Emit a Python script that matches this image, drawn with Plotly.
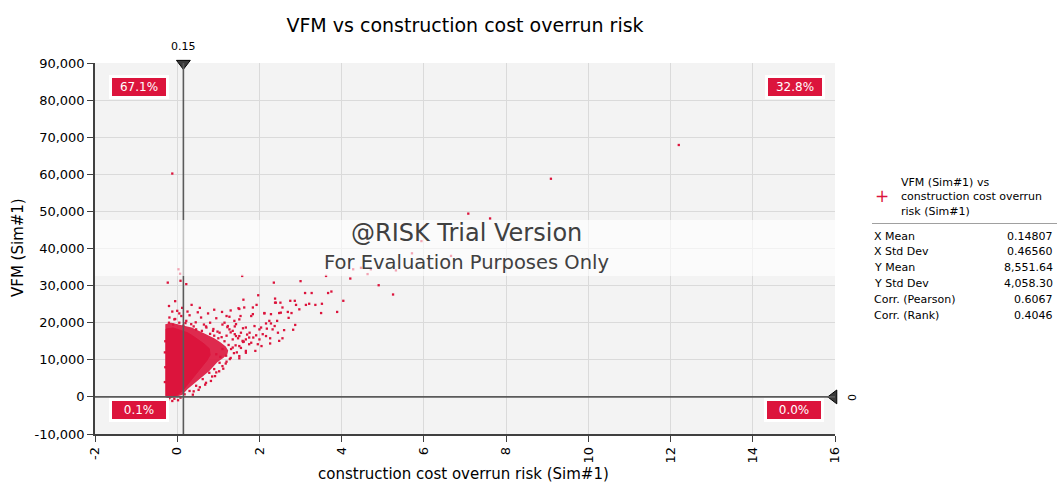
import plotly.graph_objects as go

# ---------------- data ----------------
x_tick_vals = [-2, 0, 2, 4, 6, 8, 10, 12, 14, 16]
x_tick_text = ["-2", "0", "2", "4", "6", "8", "10", "12", "14", "16"]
y_tick_vals = [-10000, 0, 10000, 20000, 30000, 40000, 50000, 60000, 70000, 80000, 90000]
y_tick_text = ["-10,000", "0", "10,000", "20,000", "30,000", "40,000", "50,000",
               "60,000", "70,000", "80,000", "90,000"]

# dense core of the simulation cloud (outline of the solid region)
core_x = [-0.27, -0.27, -0.1, 0.1, 0.25, 0.37, 0.5, 0.65, 0.78, 0.8, 0.72, 0.6, 0.45, 0.28, 0.14, 0.0, -0.15, -0.27]
core_y = [300, 18300, 18600, 17800, 17300, 16500, 15500, 14300, 13000, 11300, 9800, 8200, 6000, 3800, 1800, 500, 0, 300]

# speckled (less dense) halo around the core
halo_x = [-0.29, -0.29, -0.15, 0.1, 0.35, 0.6, 0.9, 1.05, 1.18, 1.24, 1.22, 1.12, 0.98, 0.78, 0.5, 0.26, 0.12, -0.2, -0.29]
halo_y = [0, 19600, 20000, 19400, 18700, 17400, 15800, 14700, 13600, 12500, 11500, 10500, 9400, 7000, 4300, 2200, 500, -400, 0]

# scattered iterations around the cloud
fringe_x = [1.58, 2.35, 3.0, 3.62, 4.21, 4.9, 5.25, 4.04, 3.89, 3.75, 3.67, 3.27, 3.11, 3.52, 3.5, 3.36, 3.21, 3.13,
            2.97, 2.89, 2.75, 2.86, 2.78, 2.69, 2.56, 2.51, 2.38, 2.38, 2.48, 2.28, 2.12, 1.97, 1.93, 1.84, 1.61, 1.63,
            1.51, 1.09, 1.54, 1.84, 2.71, 2.87, 2.43, 2.28, 2.16, 2.04, 2.18, 2.32, 2.6, 2.82, 2.56, 2.48, 2.26, 2.26,
            2.05, 2.08, 1.92, 1.76, 1.67, 1.51, 1.9, 1.8, 1.59, 1.51, 1.35, 1.23, 1.43, 1.39, 1.15, 1.27,
            -0.23, 0.03, 0.07, 0.08, 0.22,
            -0.19, -0.07, 0.05, 0.22, 0.34, 0.58, 0.46, 0.71, 0.87, 1.03, 1.27, 1.43, 1.55, 1.67, 1.75, 1.51, 1.31,
            1.10, 1.19, 1.03, 0.90, 0.78, 0.62, 0.46, 0.30, 0.18, 1.88, 1.51,
            -0.19, -0.07, 0.08, -0.22, -0.12, 0.02,
            1.49, 2.12, 2.4, 2.52, 1.8, 2.24, 1.67, 2.0, 2.37, 2.45, 2.16, 1.75, 1.96, 1.67, 1.51,
            -0.2, -0.05, 0.12, 0.25, 0.35, -0.12, 0.05, 0.5, 0.55, 0.75, 0.9, 0.95, 1.2, 1.3, 1.15, 1.25, 1.35, 1.2,
            1.0, 0.9, 0.8, 0.6, 0.65, 0.4, 0.15, -0.1, -0.2, 0.1, 0.0, 0.3, 0.8, 1.1, 1.4, 1.6, 1.7, 1.85, 2.0, 1.6,
            1.45, 1.3, 1.2, 1.1, 0.95, 0.85, 0.7, 0.55, 0.4, 1.35, 0.95, 1.05, -0.29, -0.3, -0.29, -0.3,
            1.42, 1.38, 1.28, 1.18, 1.12, 1.02, 0.92, 0.82, 0.68, 0.52, 0.38, 1.48, 1.55, 1.62, 1.4, 1.3, 1.22,
            0.7, 0.45, 0.2, -0.05, 0.98, 1.08, 0.88]
fringe_y = [32600, 30800, 31200, 32600, 31900, 30100, 27600, 25900, 22900, 28400, 28000, 28000, 28000, 25100, 22600,
            24800, 25100, 24800, 23600, 24800, 25900, 25900, 22600, 22900, 24100, 25400, 26500, 25400, 22600, 22300,
            22600, 27400, 24800, 24100, 26200, 24100, 23700, 22900, 21800, 22300, 21300, 19400, 20500, 19800, 19800,
            18700, 18400, 18200, 18000, 18100, 15800, 15100, 15800, 14400, 13700, 16900, 16600, 17300, 11900, 10400,
            12400, 14600, 15100, 16400, 17800, 19100, 19600, 20500, 20000, 21600,
            30800, 34400, 33200, 31300, 30400,
            21400, 20900, 20000, 20500, 19600, 21400, 18200, 18700, 17800, 17300, 18200, 16400, 17300, 15500, 14200,
            13700, 12900, 12900, 11100, 9200, 7500, 6500, 4800, 3000, 1600, 700, 19100, 20900,
            -300, -500, -200, -700, -1100, -900,
            23900, 22500, 25400, 22700, 21800, 20500, 18700, 18200, 19100, 17300, 16400, 16000, 14200, 12400, 11000,
            24500, 25800, 24000, 23000, 24800, 23000, 22500, 22800, 24000, 22500, 23500, 21200, 21800, 23300, 15000,
            14000, 15500, 16500, 15800, 16500, 17000, 17800, 19500, 19000, 19200, 19500, 20000, 21800, 23200, 22000,
            20000, 19500, 19000, 18500, 16800, 16000, 15500, 14800, 12000, 10500, 9500, 8300, 6600, 5500, 3800, 2600,
            1500, 13300, 11500, 10800, 8000, 12000, 15000, 4000,
            13900, 11800, 10200, 9000, 7600, 6900, 5600, 4300, 3300, 1900, 600, 15800, 13200, 14900, 16900, 17400, 18800,
            19000, 20100, 19900, 21000, 17600, 16100, 18300]

# isolated extreme iterations
outlier_x = [-0.12, 15.7, 12.2, 9.09, 7.08, 7.61, 5.94, 5.71, 6.66, 4.71, 4.47, 4.63, 5.32, 4.28]
outlier_y = [60200, 85000, 67900, 58800, 49400, 48100, 42000, 38700, 38000, 34400, 34800, 33100, 34100, 34400]

# delimiter markers and quadrant percentages
x_marker = 0.15
y_marker = 0
quad_labels = ["67.1%", "32.8%", "0.1%", "0.0%"]

# summary statistics panel
series_name = "VFM (Sim#1) vs<br>construction cost overrun<br>risk (Sim#1)"
stat_names = ["X Mean", "X Std Dev", "Y Mean", "Y Std Dev", "Corr. (Pearson)", "Corr. (Rank)"]
stat_values = ["0.14807", "0.46560", "8,551.64", "4,058.30", "0.6067", "0.4046"]

# ---------------- styling ----------------
RED = "#dc143c"
FONT = "DejaVu Sans"
W, H = 1057, 483
L, R, T, B = 95, 835, 63, 434  # plot-area pixel box


def px_x(px):
    return (px - L) / (R - L)


def px_y(py):
    return (B - py) / (B - T)


fig = go.Figure()

fig.add_trace(go.Scatter(x=halo_x, y=halo_y, mode="lines", fill="toself",
                         fillcolor="rgba(220,20,60,0.9)", line=dict(width=0, color=RED),
                         hoverinfo="skip", showlegend=False))
fig.add_trace(go.Scatter(x=core_x, y=core_y, mode="lines", fill="toself",
                         fillcolor=RED, line=dict(width=1, color=RED),
                         hoverinfo="skip", showlegend=False))
fig.add_trace(go.Scatter(x=fringe_x + outlier_x, y=fringe_y + outlier_y, mode="markers",
                         marker=dict(symbol="square", size=2.3, color=RED, line=dict(width=0)),
                         showlegend=False))

# delimiter triangles
fig.add_trace(go.Scatter(x=[x_marker], y=[89900], mode="markers", cliponaxis=False,
                         marker=dict(symbol="triangle-down", size=12, color="#3a3a3a",
                                     line=dict(width=1, color="#000000")),
                         hoverinfo="skip", showlegend=False))
fig.add_trace(go.Scatter(x=[15.97], y=[y_marker], mode="markers", cliponaxis=False,
                         marker=dict(symbol="triangle-left", size=12, color="#3a3a3a",
                                     line=dict(width=1, color="#000000")),
                         hoverinfo="skip", showlegend=False))

shapes = [
    dict(type="line", xref="x", yref="paper", x0=x_marker, x1=x_marker, y0=0, y1=1,
         line=dict(color="#5a5a5a", width=1.6), layer="above"),
    dict(type="line", xref="paper", yref="y", x0=0, x1=1, y0=y_marker, y1=y_marker,
         line=dict(color="#5a5a5a", width=1.6), layer="above"),
    # watermark band
    dict(type="rect", xref="paper", yref="paper", x0=0, x1=1, y0=px_y(276), y1=px_y(220),
         fillcolor="rgba(255,255,255,0.62)", line=dict(width=0), layer="above"),
    # separator in stats panel
    dict(type="line", xref="paper", yref="paper", x0=px_x(872), x1=px_x(1057), y0=px_y(223.5), y1=px_y(223.5),
         line=dict(color="#a0a0a0", width=1)),
]

ann = []
# watermark text
ann.append(dict(text="@RISK Trial Version", xref="paper", yref="paper", x=px_x(466), y=px_y(233),
                showarrow=False, font=dict(family=FONT, size=24, color="#404040"), xanchor="center", yanchor="middle"))
ann.append(dict(text="For Evaluation Purposes Only", xref="paper", yref="paper", x=px_x(466), y=px_y(262),
                showarrow=False, font=dict(family=FONT, size=19.5, color="#404040"), xanchor="center", yanchor="middle"))

# quadrant labels
quad_pos = [(139, 86.5), (794.5, 86.5), (139, 410), (794, 410)]
for lab, (qx, qy) in zip(quad_labels, quad_pos):
    ann.append(dict(text=lab, xref="paper", yref="paper", x=px_x(qx), y=px_y(qy), showarrow=False,
                    font=dict(family=FONT, size=12, color="white"), bgcolor=RED,
                    bordercolor="white", borderwidth=3, borderpad=2, width=50, height=14,
                    xanchor="center", yanchor="middle"))

# marker value labels
ann.append(dict(text=f"{x_marker:.2f}", xref="x", yref="paper", x=x_marker, y=px_y(47), showarrow=False,
                font=dict(family=FONT, size=11, color="black"), xanchor="center", yanchor="middle"))
ann.append(dict(text=f"{y_marker}", xref="paper", yref="y", x=px_x(851), y=y_marker, showarrow=False,
                textangle=90, font=dict(family=FONT, size=11, color="black"), xanchor="center", yanchor="middle"))

# axis titles
ann.append(dict(text="construction cost overrun risk (Sim#1)", xref="paper", yref="paper", x=px_x(463),
                y=px_y(474), showarrow=False, font=dict(family=FONT, size=15, color="black"),
                xanchor="center", yanchor="middle"))
ann.append(dict(text="VFM (Sim#1)", xref="paper", yref="paper", x=px_x(18), y=px_y(248), showarrow=False,
                textangle=-90, font=dict(family=FONT, size=15, color="black"),
                xanchor="center", yanchor="middle"))

# legend-like series entry
ann.append(dict(text="+", xref="paper", yref="paper", x=px_x(882), y=px_y(196), showarrow=False,
                font=dict(family=FONT, size=17, color=RED), xanchor="center", yanchor="middle"))
ann.append(dict(text=series_name, xref="paper", yref="paper", x=px_x(899), y=px_y(196.5), showarrow=False,
                align="left", font=dict(family=FONT, size=11, color="black"), xanchor="left", yanchor="middle"))

# statistics rows
for i, (nm, val) in enumerate(zip(stat_names, stat_values)):
    yy = 236 + i * 15.8
    ann.append(dict(text=nm, xref="paper", yref="paper", x=px_x(872), y=px_y(yy), showarrow=False,
                    font=dict(family=FONT, size=11, color="black"), xanchor="left", yanchor="middle"))
    ann.append(dict(text=val, xref="paper", yref="paper", x=px_x(1055), y=px_y(yy), showarrow=False,
                    font=dict(family=FONT, size=11, color="black"), xanchor="right", yanchor="middle"))

fig.update_layout(
    width=W, height=H,
    margin=dict(l=L, r=W - R, t=T, b=H - B, pad=0),
    paper_bgcolor="white", plot_bgcolor="#f3f3f3",
    font=dict(family=FONT, color="black"),
    title=dict(text="VFM vs construction cost overrun risk", x=0.5, xref="paper", xanchor="center",
               y=1 - 25 / H, yref="container", yanchor="middle",
               font=dict(family=FONT, size=19, color="black")),
    showlegend=False,
    shapes=shapes,
    annotations=ann,
    xaxis=dict(range=[-2, 16], tickvals=x_tick_vals, ticktext=x_tick_text, tickangle=-90,
               showgrid=True, gridcolor="#dadada", gridwidth=1, zeroline=False,
               showline=True, linecolor="#404040", linewidth=1.5, ticks="outside", ticklen=6,
               tickcolor="#404040", tickwidth=1.2, tickfont=dict(family=FONT, size=13, color="black"),
               automargin=False),
    yaxis=dict(range=[-10000, 90000], tickvals=y_tick_vals, ticktext=y_tick_text,
               showgrid=True, gridcolor="#dadada", gridwidth=1, zeroline=False,
               showline=True, linecolor="#404040", linewidth=1.5, ticks="outside", ticklen=6,
               tickcolor="#404040", tickwidth=1.2, tickfont=dict(family=FONT, size=13, color="black"),
               automargin=False),
)

fig.write_html("out.html", config={"displayModeBar": False},
               post_script="document.body.style.margin='0px';document.body.style.padding='0px';")
